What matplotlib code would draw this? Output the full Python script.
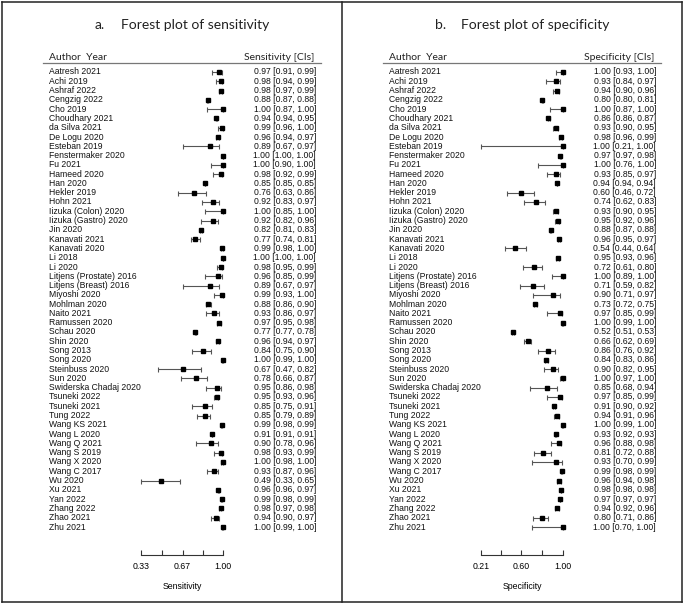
import matplotlib
matplotlib.use('Agg')
import matplotlib.pyplot as plt
import matplotlib.transforms as mtransforms
from matplotlib.lines import Line2D

studies = ['Aatresh 2021', 'Achi 2019', 'Ashraf 2022', 'Cengzig 2022', 'Cho 2019',
           'Choudhary 2021', 'da Silva 2021', 'De Logu 2020', 'Esteban 2019',
           'Fenstermaker 2020', 'Fu 2021', 'Hameed 2020', 'Han 2020', 'Hekler 2019',
           'Hohn 2021', 'Iizuka (Colon) 2020', 'Iizuka (Gastro) 2020', 'Jin 2020',
           'Kanavati 2021', 'Kanavati 2020', 'Li 2018', 'Li 2020',
           'Litjens (Prostate) 2016', 'Litjens (Breast) 2016', 'Miyoshi 2020',
           'Mohlman 2020', 'Naito 2021', 'Ramussen 2020', 'Schau 2020', 'Shin 2020',
           'Song 2013', 'Song 2020', 'Steinbuss 2020', 'Sun 2020',
           'Swiderska Chadaj 2020', 'Tsuneki 2022', 'Tsuneki 2021', 'Tung 2022',
           'Wang KS 2021', 'Wang L 2020', 'Wang Q 2021', 'Wang S 2019', 'Wang X 2020',
           'Wang C 2017', 'Wu 2020', 'Xu 2021', 'Yan 2022', 'Zhang 2022', 'Zhao 2021',
           'Zhu 2021']

sens = [0.97, 0.98, 0.98, 0.88, 1.00, 0.94, 0.99, 0.96, 0.89, 1.00, 1.00, 0.98, 0.85,
        0.76, 0.92, 1.00, 0.92, 0.82, 0.77, 0.99, 1.00, 0.98, 0.96, 0.89, 0.99, 0.88,
        0.93, 0.97, 0.77, 0.96, 0.84, 1.00, 0.67, 0.78, 0.95, 0.95, 0.85, 0.85, 0.99,
        0.91, 0.90, 0.98, 1.00, 0.93, 0.49, 0.96, 0.99, 0.98, 0.94, 1.00]
sens_lo = [0.91, 0.94, 0.97, 0.87, 0.87, 0.94, 0.96, 0.94, 0.67, 1.00, 0.90, 0.92, 0.85,
           0.63, 0.83, 0.85, 0.82, 0.81, 0.74, 0.98, 1.00, 0.95, 0.85, 0.67, 0.93, 0.86,
           0.86, 0.95, 0.77, 0.94, 0.75, 0.99, 0.47, 0.66, 0.86, 0.93, 0.75, 0.79, 0.98,
           0.91, 0.78, 0.93, 0.98, 0.87, 0.33, 0.96, 0.98, 0.97, 0.90, 0.99]
sens_hi = [0.99, 0.99, 0.99, 0.88, 1.00, 0.95, 1.00, 0.97, 0.97, 1.00, 1.00, 0.99, 0.85,
           0.86, 0.97, 1.00, 0.96, 0.83, 0.81, 1.00, 1.00, 0.99, 0.99, 0.97, 1.00, 0.90,
           0.97, 0.98, 0.78, 0.97, 0.90, 1.00, 0.82, 0.87, 0.98, 0.96, 0.91, 0.89, 0.99,
           0.91, 0.96, 0.99, 1.00, 0.96, 0.65, 0.97, 0.99, 0.98, 0.97, 1.00]

spec = [1.00, 0.93, 0.94, 0.80, 1.00, 0.86, 0.93, 0.98, 1.00, 0.97, 1.00, 0.93, 0.94,
        0.60, 0.74, 0.93, 0.95, 0.88, 0.96, 0.54, 0.95, 0.72, 1.00, 0.71, 0.90, 0.73,
        0.97, 1.00, 0.52, 0.66, 0.86, 0.84, 0.90, 1.00, 0.85, 0.97, 0.91, 0.94, 1.00,
        0.93, 0.96, 0.81, 0.93, 0.99, 0.96, 0.98, 0.97, 0.94, 0.80, 1.00]
spec_lo = [0.93, 0.84, 0.90, 0.80, 0.87, 0.86, 0.90, 0.96, 0.21, 0.97, 0.76, 0.85, 0.94,
           0.46, 0.62, 0.90, 0.92, 0.87, 0.95, 0.44, 0.93, 0.61, 0.89, 0.59, 0.71, 0.72,
           0.85, 0.99, 0.51, 0.62, 0.76, 0.83, 0.82, 0.97, 0.68, 0.85, 0.90, 0.91, 0.99,
           0.92, 0.88, 0.72, 0.70, 0.98, 0.94, 0.98, 0.97, 0.92, 0.71, 0.70]
spec_hi = [1.00, 0.97, 0.96, 0.81, 1.00, 0.87, 0.95, 0.99, 1.00, 0.98, 1.00, 0.97, 0.94,
           0.72, 0.83, 0.95, 0.96, 0.88, 0.97, 0.64, 0.96, 0.80, 1.00, 0.82, 0.97, 0.75,
           0.99, 1.00, 0.53, 0.69, 0.92, 0.86, 0.95, 1.00, 0.94, 0.99, 0.92, 0.96, 1.00,
           0.93, 0.98, 0.88, 0.99, 0.99, 0.98, 0.98, 0.97, 0.96, 0.86, 1.00]

W, H = 685, 607
ROW0, ROW_LAST = 72, 527
LABEL_FONT = ['Liberation Sans', 'DejaVu Sans']
TITLE_FONT = ['Lato', 'DejaVu Sans']


def fx(px):
    return px / W


def fy(py):
    return 1 - py / H


def forest_panel(fig, x0, letter, title, measure, est, lo, hi, xlim, ticks, ticklabels):
    n = len(studies)
    step = (ROW_LAST - ROW0) / (n - 1)
    top = ROW0 - step / 2
    bot = ROW_LAST + step / 2
    # plot region: xlim[0] at x0+139, xlim[1] at x0+221 (pixels)
    ax = fig.add_axes([fx(x0 + 139), fy(bot), 82 / W, (bot - top) / H])
    ax.set_xlim(*xlim)
    ax.set_ylim(n - 0.5, -0.5)
    ax.patch.set_alpha(0)
    for s in ['top', 'left', 'right']:
        ax.spines[s].set_visible(False)
    ax.spines['bottom'].set_position(('outward', (555 - bot) * 72 / 100))
    ax.spines['bottom'].set_linewidth(0.8)
    ax.spines['bottom'].set_color('#333333')
    ax.set_yticks([])
    ax.set_xticks(ticks)
    ax.set_xticklabels(ticklabels, fontsize=6.3, family=LABEL_FONT)
    ax.tick_params(axis='x', direction='in', length=3.5, width=0.8, color='#333333', pad=5)
    ax.set_xlabel(measure, fontsize=6.3, family=LABEL_FONT, labelpad=8)

    ys = list(range(n))
    ax.errorbar(est, ys, xerr=[[e - l for e, l in zip(est, lo)], [h - e for e, h in zip(est, hi)]],
                fmt='none', ecolor='#555555', elinewidth=0.8, capsize=1.8, capthick=0.8,
                clip_on=False)
    ax.plot(est, ys, 's', color='black', ms=3.4, clip_on=False, zorder=3)

    trans = mtransforms.blended_transform_factory(fig.transFigure, ax.transData)
    for i in range(n):
        ax.text(fx(x0 + 47), i, studies[i], transform=trans, ha='left', va='center',
                fontsize=6.2, family=LABEL_FONT, color='#111111')
        ax.text(fx(x0 + 314), i, '%.2f [%.2f, %.2f]' % (est[i], lo[i], hi[i]),
                transform=trans, ha='right', va='center', fontsize=6.2,
                family=LABEL_FONT, color='#111111')

    # header
    fig.text(fx(x0 + 47), fy(57), 'Author  Year', ha='left', va='center', fontsize=7.5,
             family=TITLE_FONT, color='#222222')
    fig.text(fx(x0 + 312), fy(57), measure + ' [CIs]', ha='right', va='center',
             fontsize=7.5, family=TITLE_FONT, color='#222222')
    fig.add_artist(Line2D([fx(x0 + 41), fx(x0 + 319)], [fy(63), fy(63)],
                          color='#777777', lw=0.9))
    # title
    fig.text(fx(x0 + 93), fy(25), letter, ha='left', va='center', fontsize=10,
             family=TITLE_FONT, color='#222222')
    fig.text(fx(x0 + 119), fy(25), title, ha='left', va='center', fontsize=10,
             family=TITLE_FONT, color='#222222')
    return ax


def main():
    fig = plt.figure(figsize=(W / 100, H / 100), dpi=100)
    fig.patch.set_facecolor('white')

    forest_panel(fig, 2, 'a.', 'Forest plot of sensitivity', 'Sensitivity',
                 sens, sens_lo, sens_hi, (0.33, 1.00),
                 [0.33, 0.5, 0.67, 0.835, 1.00], ['0.33', '', '0.67', '', '1.00'])
    forest_panel(fig, 342, 'b.', 'Forest plot of specificity', 'Specificity',
                 spec, spec_lo, spec_hi, (0.21, 1.00),
                 [0.21, 0.405, 0.60, 0.80, 1.00], ['0.21', '', '0.60', '', '1.00'])

    # panel borders
    for xs, ys in [([2, 682], [2, 2]), ([2, 682], [602, 602]), ([2, 2], [2, 602]),
                   ([342, 342], [2, 602]), ([682, 682], [2, 602])]:
        fig.add_artist(Line2D([fx(x) for x in xs], [fy(y) for y in ys],
                              color='#222222', lw=1.1))

    fig.savefig('out.png', dpi=100)


if __name__ == '__main__':
    main()
